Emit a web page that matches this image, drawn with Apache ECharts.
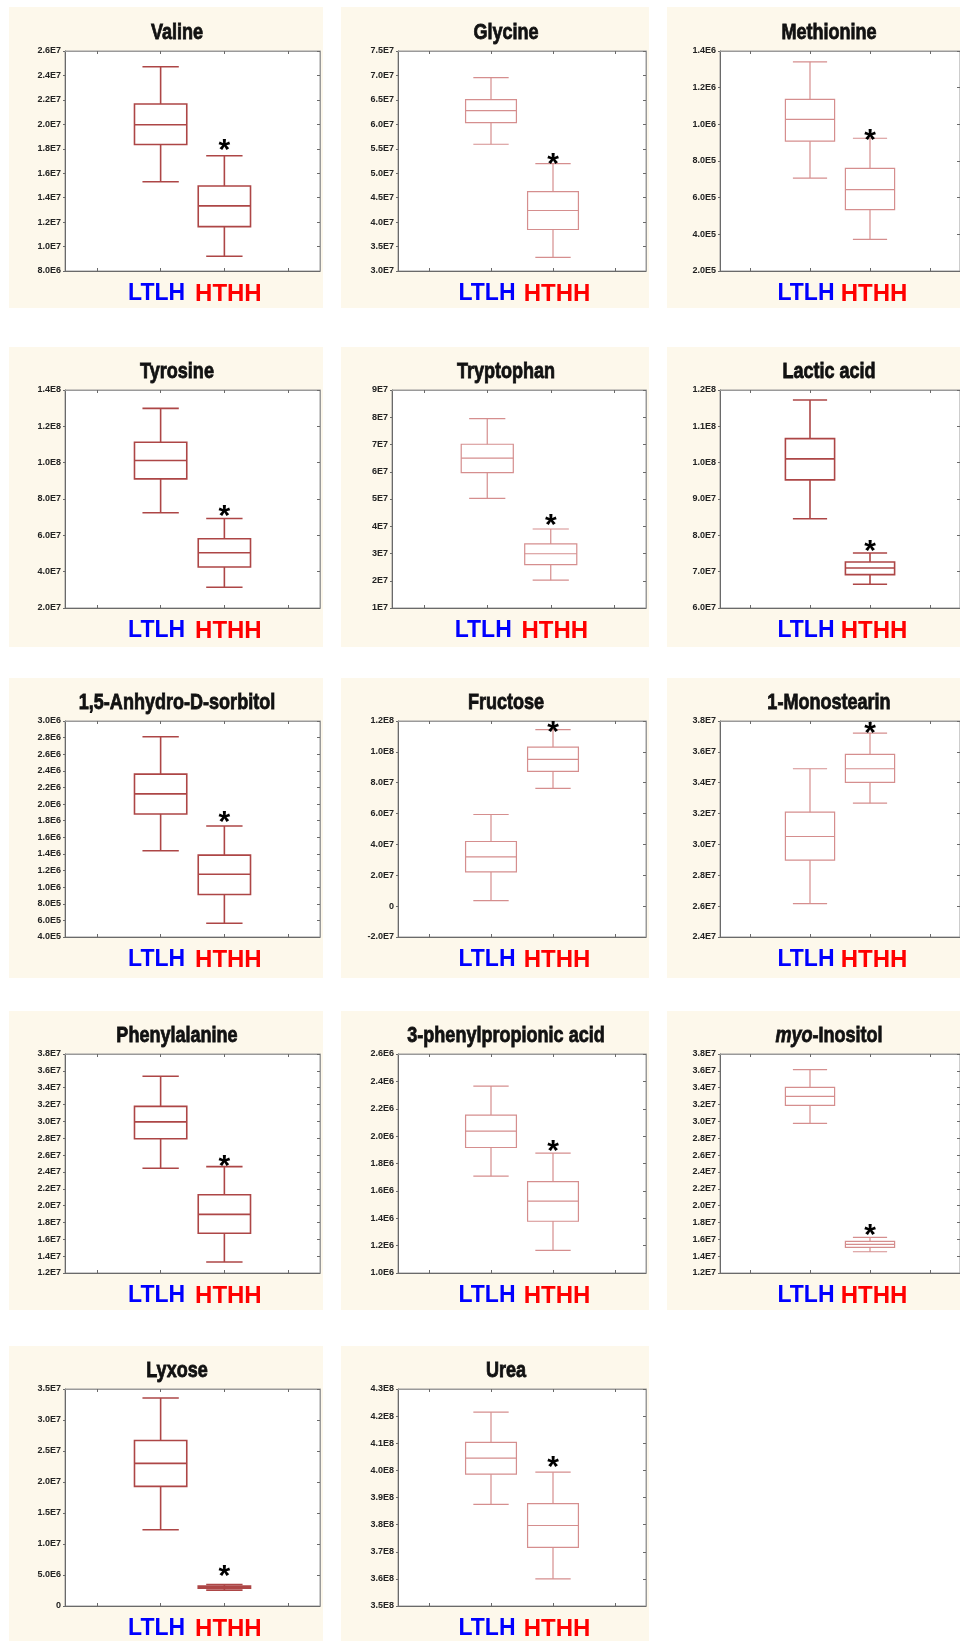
<!DOCTYPE html>
<html><head><meta charset="utf-8">
<script src="https://cdn.jsdelivr.net/npm/echarts@6/dist/echarts.min.js"></script>
<style>html,body{margin:0;padding:0;background:#fff}#c{width:960px;height:1641px}</style>
</head><body><div id="c"></div>
<script>
// ---------------- data ----------------
const metabolites = ['Valine','Glycine','Methionine','Tyrosine','Tryptophan','Lactic acid',
  '1,5-Anhydro-D-sorbitol','Fructose','1-Monostearin','Phenylalanine','3-phenylpropionic acid',
  'myo-Inositol','Lyxose','Urea'];
const groups = ['LTLH','HTHH'];
// [min, Q1, median, Q3, max]
const ltlhStats = [
  [1.530e7, 1.835e7, 1.996e7, 2.166e7, 2.471e7],
  [5.593e7, 6.035e7, 6.280e7, 6.505e7, 6.955e7],
  [7.07e5, 9.08e5, 1.027e6, 1.1365e6, 1.341e6],
  [7.24e7, 9.11e7, 1.012e8, 1.1125e8, 1.299e8],
  [5.02e7, 5.97e7, 6.50e7, 7.01e7, 7.95e7],
  [8.456e7, 9.527e7, 1.0104e8, 1.0663e8, 1.1725e8],
  [1.438e6, 1.881e6, 2.1225e6, 2.360e6, 2.811e6],
  [3.6e6, 2.22e7, 3.19e7, 4.19e7, 5.94e7],
  [2.6164e7, 2.8977e7, 3.0513e7, 3.2093e7, 3.4906e7],
  [2.443e7, 2.7931e7, 2.9937e7, 3.1786e7, 3.5365e7],
  [1.7073e6, 1.917e6, 2.0366e6, 2.1537e6, 2.366e6],
  [2.9756e7, 3.1896e7, 3.2966e7, 3.4037e7, 3.6137e7],
  [1.231e7, 1.929e7, 2.301e7, 2.669e7, 3.356e7],
  [3.875e8, 3.9861e8, 4.0448e8, 4.1034e8, 4.2145e8]
];
const hthhStats = [
  [9.21e6, 1.163e7, 1.333e7, 1.495e7, 1.743e7],
  [3.277e7, 3.849e7, 4.237e7, 4.625e7, 5.198e7],
  [3.73e5, 5.345e5, 6.44e5, 7.60e5, 9.24e5],
  [3.14e7, 4.256e7, 5.04e7, 5.81e7, 6.93e7],
  [2.02e7, 2.59e7, 2.99e7, 3.35e7, 3.90e7],
  [6.652e7, 6.918e7, 7.10e7, 7.266e7, 7.513e7],
  [5.65e5, 9.11e5, 1.156e6, 1.386e6, 1.736e6],
  [7.63e7, 8.73e7, 9.51e7, 1.031e8, 1.144e8],
  [3.2677e7, 3.4019e7, 3.4906e7, 3.5836e7, 3.722e7],
  [1.33e7, 1.6722e7, 1.8963e7, 2.1284e7, 2.4627e7],
  [1.1659e6, 1.378e6, 1.5244e6, 1.668e6, 1.8756e6],
  [1.452e7, 1.504e7, 1.540e7, 1.575e7, 1.6226e7],
  [2.56e6, 2.88e6, 3.04e6, 3.20e6, 3.47e6],
  [3.6001e8, 3.7162e8, 3.7968e8, 3.8774e8, 3.9935e8]
];
// significance marker (*) above HTHH
const starValues = [1.851e7, 5.347e7, 9.55e5, 7.48e7, 4.30e7, 7.77e7, 1.873e6, 1.178e8,
  3.7675e7, 2.561e7, 1.946e6, 1.742e7, 5.97e6, 4.0374e8];
// y-axis ticks
const yMin  = [8e6, 3e7, 2e5, 2e7, 1e7, 6e7, 4e5, -2e7, 2.4e7, 1.2e7, 1e6, 1.2e7, 0, 3.5e8];
const yMax  = [2.6e7, 7.5e7, 1.4e6, 1.4e8, 9e7, 1.2e8, 3e6, 1.2e8, 3.8e7, 3.8e7, 2.6e6, 3.8e7, 3.5e7, 4.3e8];
const yStep = [2e6, 5e6, 2e5, 2e7, 1e7, 1e7, 2e5, 2e7, 2e6, 2e6, 2e5, 2e6, 5e6, 1e7];
const yDecimals = [1,1,1,1,0,1,1,1,1,1,1,1,1,1];

// ---------------- layout / style ----------------
const cols = [
  {px: 9, pw: 314, left: 65, right: 320, tx: 177},
  {px: 341, pw: 308, left: 398, right: 646, tx: 506},
  {px: 667, pw: 293, left: 720, right: 969, tx: 829}
];
const rows = [
  {py: 7, ph: 301, top: 51, bottom: 271},
  {py: 347, ph: 300, top: 390, bottom: 608},
  {py: 678, ph: 300, top: 721, bottom: 937},
  {py: 1011, ph: 299, top: 1054, bottom: 1273},
  {py: 1346, ph: 295, top: 1389, bottom: 1607}
];
const darkPanels = [0, 3, 5, 6, 9, 12];
const SANS = '"Liberation Sans",Arial,sans-serif';

function fmtSci(v, dec) {
  if (Math.abs(v) < 1e-9) return '0';
  const sign = v < 0 ? '-' : '';
  let a = Math.abs(v);
  let e = Math.floor(Math.log10(a) + 1e-9);
  let ms = (a / Math.pow(10, e)).toFixed(dec);
  if (parseFloat(ms) >= 10) { e += 1; ms = (a / Math.pow(10, e)).toFixed(dec); }
  return sign + ms + 'E' + e;
}

const grids = [], xAxes = [], yAxes = [], series = [], graphics = [];
const cats = [' ', groups[0], groups[1], '  '];

metabolites.forEach((name, i) => {
  const c = cols[i % 3], r = rows[Math.floor(i / 3)];
  let left = c.left;
  if (i === 4) left = 392;
  const dark = darkPanels.indexOf(i) >= 0;
  const stroke = dark ? '#ad4646' : '#d58e8e';
  const lw = dark ? 1.6 : 1.2;

  graphics.push({type: 'rect', z: -10, shape: {x: c.px, y: r.py, width: c.pw, height: r.ph},
    style: {fill: '#fdf8eb'}});

  // panel title (condensed via horizontal scale)
  graphics.push({type: 'text', x: c.tx, y: r.top - 18, scaleX: 0.82, z: 10,
    style: {
      text: name === 'myo-Inositol' ? '{i|myo}-Inositol' : name,
      fontSize: 22, fontWeight: 'bold', fontFamily: SANS,
      fill: '#111', stroke: '#111', lineWidth: 0.8,
      align: 'center', verticalAlign: 'middle',
      rich: {i: {fontStyle: 'italic', fontWeight: 'bold', fontSize: 22, fontFamily: SANS,
        fill: '#111', stroke: '#111', lineWidth: 0.8}}
    }});

  grids.push({left: left, top: r.top, width: c.right - left, height: r.bottom - r.top,
    show: true, backgroundColor: '#ffffff', borderColor: '#9a9a9a', borderWidth: 1, containLabel: false});

  // bottom category axis with group labels
  xAxes.push({type: 'category', gridIndex: i, data: cats, position: 'bottom',
    axisLine: {show: true, onZero: false, lineStyle: {color: '#6a6a6a', width: 1}},
    axisTick: {show: true, inside: true, alignWithLabel: true, interval: 0, length: 3, lineStyle: {color: '#6a6a6a'}},
    axisLabel: {interval: 0, margin: 11, hideOverlap: false,
      formatter: v => v === groups[0] ? '{a|' + v + '}' : (v === groups[1] ? '{b|' + v + '}' : ''),
      rich: {a: {color: '#0000ff', fontSize: 23, fontWeight: 'bold', fontFamily: SANS, padding: [0, 8, 0, 0]},
             b: {color: '#ff0000', fontSize: 24, fontWeight: 'bold', fontFamily: SANS, padding: [0, 0, 0, 8]}}},
    splitLine: {show: false}});
  // top mirror axis
  xAxes.push({type: 'category', gridIndex: i, data: cats, position: 'top',
    axisLine: {show: true, onZero: false, lineStyle: {color: '#9a9a9a', width: 1}},
    axisTick: {show: true, inside: true, alignWithLabel: true, interval: 0, length: 3, lineStyle: {color: '#6a6a6a'}},
    axisLabel: {show: false}, splitLine: {show: false}});

  const yCommon = {type: 'value', gridIndex: i, min: yMin[i], max: yMax[i], interval: yStep[i],
    splitLine: {show: false}};
  yAxes.push(Object.assign({}, yCommon, {position: 'left',
    axisLine: {show: true, onZero: false, lineStyle: {color: '#6a6a6a', width: 1}},
    axisTick: {show: true, inside: false, length: 2, lineStyle: {color: '#6a6a6a'}},
    axisLabel: {margin: 4, fontSize: 9, fontWeight: 'bold', fontFamily: SANS, color: '#222',
      formatter: (v) => fmtSci(v, yDecimals[i])}}));
  yAxes.push(Object.assign({}, yCommon, {position: 'right',
    axisLine: {show: true, onZero: false, lineStyle: {color: '#9a9a9a', width: 1}},
    axisTick: {show: true, inside: true, length: 3, lineStyle: {color: '#6a6a6a'}},
    axisLabel: {show: false}}));

  series.push({
    type: 'custom', name: name, xAxisIndex: 2 * i, yAxisIndex: 2 * i,
    data: [[1].concat(ltlhStats[i]), [2].concat(hthhStats[i])],
    encode: {x: 0, y: [1, 2, 3, 4, 5]},
    renderItem: function (params, api) {
      const x = api.value(0);
      const pMin = api.coord([x, api.value(1)]);
      const pQ1 = api.coord([x, api.value(2)]);
      const pMed = api.coord([x, api.value(3)]);
      const pQ3 = api.coord([x, api.value(4)]);
      const pMax = api.coord([x, api.value(5)]);
      const band = api.size([1, 0])[0];
      const cx = pMed[0];
      const bw = band * 0.82, cw = band * 0.57;
      const st = {stroke: stroke, lineWidth: lw, fill: null};
      return {type: 'group', children: [
        {type: 'rect', shape: {x: cx - bw / 2, y: pQ3[1], width: bw, height: pQ1[1] - pQ3[1]},
          style: {stroke: stroke, lineWidth: lw, fill: 'rgba(0,0,0,0)'}},
        {type: 'line', shape: {x1: cx - bw / 2, y1: pMed[1], x2: cx + bw / 2, y2: pMed[1]}, style: st},
        {type: 'line', shape: {x1: cx, y1: pQ3[1], x2: cx, y2: pMax[1]}, style: st},
        {type: 'line', shape: {x1: cx, y1: pQ1[1], x2: cx, y2: pMin[1]}, style: st},
        {type: 'line', shape: {x1: cx - cw / 2, y1: pMax[1], x2: cx + cw / 2, y2: pMax[1]}, style: st},
        {type: 'line', shape: {x1: cx - cw / 2, y1: pMin[1], x2: cx + cw / 2, y2: pMin[1]}, style: st}
      ]};
    },
    silent: true, animation: false
  });
  series.push({
    type: 'custom', name: name + ' *', xAxisIndex: 2 * i, yAxisIndex: 2 * i,
    data: [[2, starValues[i]]], encode: {x: 0, y: 1},
    renderItem: function (params, api) {
      const p = api.coord([api.value(0), api.value(1)]);
      return {type: 'text', x: p[0], y: p[1] + 8,
        style: {text: '*', fontSize: 30, fontWeight: 'bold', fontFamily: SANS, fill: '#000',
          align: 'center', verticalAlign: 'middle'}};
    },
    silent: true, animation: false, z: 5
  });
});

const chart = echarts.init(document.getElementById('c'), null, {renderer: 'canvas'});
chart.setOption({
  animation: false,
  backgroundColor: '#ffffff',
  grid: grids,
  xAxis: xAxes,
  yAxis: yAxes,
  graphic: graphics,
  series: series
});
</script>
</body></html>
